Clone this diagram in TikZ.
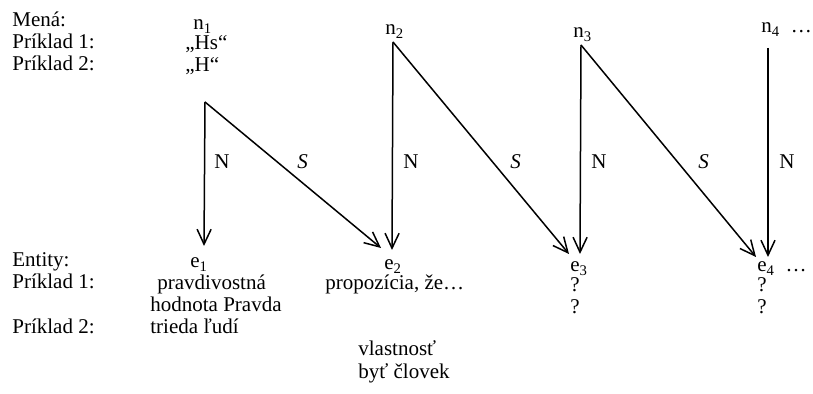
\documentclass[tikz,border=0pt]{standalone}
\usepackage{fontspec}
\setmainfont{Liberation Serif}
\usetikzlibrary{arrows.meta}
\begin{document}
\begin{tikzpicture}[x=0.5pt,y=-0.5pt,
  txt/.style={anchor=base west,inner sep=0pt,font=\fontsize{10.5}{12}\selectfont},
  lbl/.style={anchor=base west,inner sep=0pt,font=\fontsize{10.5}{12}\selectfont},
  arr/.style={line width=0.75pt,-{Straight Barb[length=7.5pt,width=7pt,line width=0.75pt]}},
  ln/.style={line width=0.75pt}]
\useasboundingbox (0,0) rectangle (813,394);
% left column
\node[txt] (mena) at (12,27) {Mená:};
\node[txt] (p1a) at (12,49) {Príklad 1:};
\node[txt] (p2a) at (12,71) {Príklad 2:};
\node[txt] (ent) at (12,267) {Entity:};
\node[txt] (p1b) at (12,289) {Príklad 1:};
\node[txt] (p2b) at (12,334) {Príklad 2:};
% names
\node[txt] (n1) at (193,30) {n\textsubscript{1}};
\node[txt] (hs) at (185,50) {„Hs“};
\node[txt] (h) at (185,72) {„H“};
\node[txt] (n2) at (385,35) {n\textsubscript{2}};
\node[txt] (n3) at (573,38) {n\textsubscript{3}};
\node[txt] (n4) at (761,33) {n\textsubscript{4}\ \ …};
% entities
\node[txt] (e1) at (190,268) {e\textsubscript{1}};
\node[txt] (pr) at (157,290) {pravdivostná};
\node[txt] (hp) at (150,312) {hodnota Pravda};
\node[txt] (tl) at (150,334) {trieda ľudí};
\node[txt] (e2) at (384,270) {e\textsubscript{2}};
\node[txt] (pz) at (325,290) {propozícia, že…};
\node[txt] (vl) at (358,356) {vlastnosť};
\node[txt] (bc) at (358,379) {byť človek};
\node[txt] (e3) at (570,272) {e\textsubscript{3}};
\node[txt] (q31) at (570,292) {?};
\node[txt] (q32) at (570,314) {?};
\node[txt] (e4) at (757,272) {e\textsubscript{4}\ \ …};
\node[txt] (q41) at (757,292) {?};
\node[txt] (q42) at (757,314) {?};
% vertices and tips
\coordinate (v1) at (205,102);
\coordinate (t1n) at (204,246);
\coordinate (t1s) at (381,248);
\coordinate (v2) at (393,42);
\coordinate (t2n) at (392,250);
\coordinate (t2s) at (569,254);
\coordinate (v3) at (581,45);
\coordinate (t3n) at (580,254);
\coordinate (t3s) at (756,257);
\coordinate (v4) at (768,48);
\coordinate (t4n) at (768,257);
\draw[arr] (v1) -- (t1n);
\draw[arr] (v1) -- (t1s);
\draw[arr] (v2) -- (t2n);
\draw[arr] (v2) -- (t2s);
\draw[arr] (v3) -- (t3n);
\draw[arr] (v3) -- (t3s);
\draw[arr] (v4) -- (t4n);
% labels
\node[lbl] (ln1) at (214,169) {N};
\node[lbl] (ls1) at (297,169) {\textit{S}};
\node[lbl] (ln2) at (403,169) {N};
\node[lbl] (ls2) at (510,169) {\textit{S}};
\node[lbl] (ln3) at (591,169) {N};
\node[lbl] (ls3) at (698,169) {\textit{S}};
\node[lbl] (ln4) at (779,169) {N};
\end{tikzpicture}
\end{document}
